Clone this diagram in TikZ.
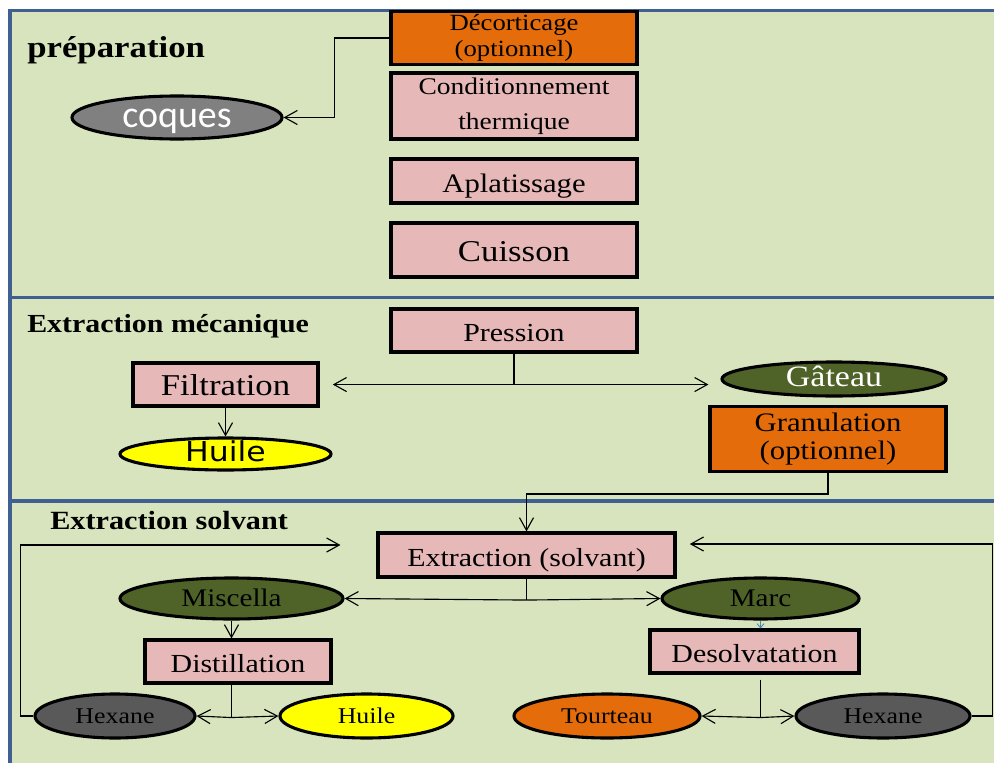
\documentclass[tikz,border=0pt]{standalone}
\usepackage{fontspec}
\setmainfont{Liberation Serif}[FakeStretch=1.15]
\newfontfamily\calibfont{Carlito}
\newfontfamily\dejavufont{DejaVu Sans}[FakeStretch=1.15]
\usepackage{tikz}
\usetikzlibrary{shapes.geometric, arrows.meta}
\definecolor{pn-green}{RGB}{215, 228, 189}
\definecolor{pn-blue}{RGB}{63, 96, 145}
\definecolor{bx-pink}{RGB}{230, 185, 184}
\definecolor{bx-orange}{RGB}{228, 108, 10}
\definecolor{ov-olive}{RGB}{79, 98, 40}
\definecolor{ov-grey}{RGB}{128, 128, 128}
\definecolor{ov-dark}{RGB}{89, 89, 89}
\definecolor{ov-yellow}{RGB}{255, 255, 0}
\definecolor{ln-blue}{RGB}{79, 129, 189}
\newcommand{\fsz}[2]{\fontsize{#1}{#2}\selectfont}

\begin{document}
\begin{tikzpicture}[x=0.025cm, y=-0.025cm,
    panel/.style={fill=pn-green, draw=pn-blue, line width=2.2pt},
    box/.style={rectangle, draw=black, line width=2.2pt, inner sep=0pt, align=center, fill=bx-pink},
    low/.style={text height=16pt, text depth=0pt},
    oval/.style={ellipse, draw=black, line width=2.2pt, inner sep=0pt, text height=11pt, text depth=0pt},
    arr/.style={-{Straight Barb[length=9pt, width=10pt]}, line width=0.8pt},
    link/.style={line width=0.8pt},
    title/.style={anchor=base west, inner sep=0pt}]
    \useasboundingbox (0,0) rectangle (994,763);
    \fill[white] (0,0) rectangle (994,763);

    % the three stages
    \draw[panel] (10,10.5) rectangle (1010,297.5);
    \draw[panel] (10,297.5) rectangle (1010,501);
    \draw[panel] (10,501) rectangle (1010,790);

    % preparation
    \node[title, font=\bfseries\fsz{21.5}{26}] (tprep) at (27,57) {préparation};
    \node[box, fill=bx-orange, minimum width=6.15cm, minimum height=1.325cm, font=\fsz{16.5}{19}] (dec) at (514,38) {Décorticage\\(optionnel)};
    \node[box, minimum width=6.15cm, minimum height=1.65cm, font=\fsz{17}{25}] (cond) at (514,106) {Conditionnement\\thermique};
    \node[box, low, minimum width=6.15cm, minimum height=1.1cm, font=\fsz{19}{22}] (apla) at (514,181) {Aplatissage};
    \node[box, low, minimum width=6.15cm, minimum height=1.35cm, font=\fsz{21.5}{25}] (cuis) at (514,250) {Cuisson};
    \node[oval, text height=14pt, fill=ov-grey, text=white, minimum width=5.25cm, minimum height=1.075cm, font=\calibfont\fsz{27}{30}] (coq) at (177,117.5) {coques};

    % extraction mecanique
    \node[title, font=\bfseries\fsz{18.5}{22}] (tmeca) at (27,332) {Extraction mécanique};
    \node[box, low, minimum width=6.15cm, minimum height=1.075cm, font=\fsz{18.5}{22}] (pres) at (514,330.5) {Pression};
    \node[box, low, minimum width=4.625cm, minimum height=1.075cm, font=\fsz{21.5}{25}] (filt) at (225.5,384.5) {Filtration};
    \node[oval, fill=ov-yellow, minimum width=5.275cm, minimum height=0.8cm, font=\dejavufont\fsz{19.5}{22}] (hui1) at (225.5,454) {Huile};
    \node[oval, fill=ov-olive, text=white, minimum width=5.6cm, minimum height=0.85cm, font=\fsz{21}{24}] (gat) at (834,379) {Gâteau};
    \node[box, fill=bx-orange, minimum width=5.9cm, minimum height=1.625cm, font=\fsz{19}{20.5}] (gran) at (828,439) {Granulation\\(optionnel)};

    % extraction solvant
    \node[title, font=\bfseries\fsz{18.7}{22}] (tsolv) at (50,529) {Extraction solvant};
    \node[box, low, minimum width=7.425cm, minimum height=1.1cm, font=\fsz{18.5}{22}] (ext) at (526.5,555) {Extraction (solvant)};
    \node[oval, fill=ov-olive, minimum width=5.575cm, minimum height=1.025cm, font=\fsz{18}{22}] (misc) at (231.5,598.5) {Miscella};
    \node[oval, fill=ov-olive, minimum width=4.925cm, minimum height=1.025cm, font=\fsz{18}{22}] (marc) at (760.5,598.5) {Marc};
    \node[box, low, minimum width=4.65cm, minimum height=1.075cm, font=\fsz{18.5}{22}] (dist) at (238,661.5) {Distillation};
    \node[box, low, minimum width=5.225cm, minimum height=1.075cm, font=\fsz{18.5}{22}] (desol) at (754.5,651.5) {Desolvatation};
    \node[oval, fill=ov-dark, minimum width=4cm, minimum height=1.1cm, font=\fsz{16}{19}] (hexl) at (115,716) {Hexane};
    \node[oval, fill=ov-yellow, minimum width=4.325cm, minimum height=1.1cm, font=\fsz{16}{19}] (hui2) at (366.5,716) {Huile};
    \node[oval, fill=bx-orange, minimum width=4.65cm, minimum height=1.1cm, font=\fsz{16}{19}] (tour) at (607,716) {Tourteau};
    \node[oval, fill=ov-dark, minimum width=4.35cm, minimum height=1.1cm, font=\fsz{16}{19}] (hexr) at (883,716) {Hexane};

    % connectors
    \draw[arr] (dec.west) -- ++(-55,0) |- (coq.east);
    \draw[link] (pres.south) -- ++(0,31) coordinate (pj);
    \draw[arr, shorten >=0.33cm] (pj) -- (pj -| filt.east);
    \draw[arr, shorten >=0.3cm] (pj) -- (pj -| gat.west);
    \draw[arr] (filt.south) -- (hui1.north);
    \draw[arr] (gran.south) -- ++(0,21) -| (ext.north);
    \draw[link] (ext.south) -- ++(0,21.5) coordinate (ej);
    \draw[arr] (ej) -- (misc.east);
    \draw[arr] (ej) -- (marc.west);
    \draw[arr] (misc.south) -- (misc.south |- dist.north);
    \draw[link] (misc.south |- dist.south) -- ++(0,33) coordinate (dj);
    \draw[arr] (dj) -- (hexl.east);
    \draw[arr] (dj) -- (hui2.west);
    \draw[arr, shorten >=0.9cm] (hexl.west) -- ++(-13,0) |- ([yshift=0.25cm]ext.west);
    \draw[-{Straight Barb[length=3pt, width=5pt]}, ln-blue, line width=0.6pt] (marc.south) -- (marc.south |- desol.north);
    \draw[link] (marc.south |- desol.south) ++(0,5) -- ++(0,38) coordinate (sj);
    \draw[arr] (sj) -- (tour.east);
    \draw[arr] (sj) -- (hexr.west);
    \draw[arr, shorten >=0.33cm] (hexr.east) -- ++(21,0) |- ([yshift=0.275cm]ext.east);
\end{tikzpicture}
\end{document}
